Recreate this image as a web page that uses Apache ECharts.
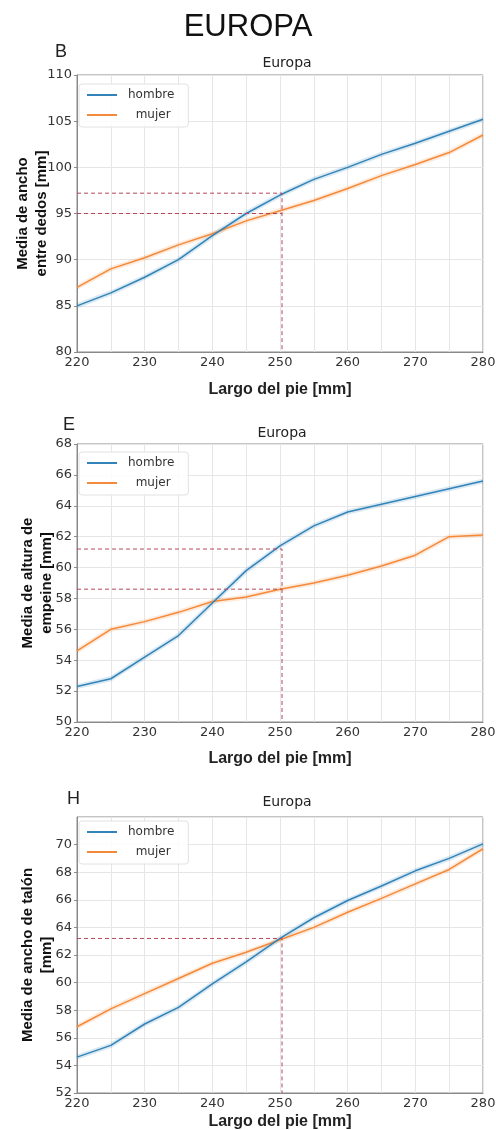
<!DOCTYPE html>
<html>
<head>
<meta charset="utf-8">
<script src="https://cdn.jsdelivr.net/npm/echarts@6/dist/echarts.min.js"></script>
<style>html,body{margin:0;padding:0;background:#fff;}#c{width:496px;height:1130px;}</style>
</head>
<body>
<div id="c"></div>
<script>
// ---- data ----
const largo = [220, 225, 230, 235, 240, 245, 250, 255, 260, 265, 270, 275, 280];
const xTicks = [220, 230, 240, 250, 260, 270, 280];

const anchoDedosHombre = [85.0, 86.4, 88.1, 90.0, 92.6, 95.0, 97.0, 98.7, 100.0, 101.4, 102.6, 103.9, 105.2];
const anchoDedosMujer  = [87.0, 89.0, 90.2, 91.6, 92.8, 94.2, 95.3, 96.4, 97.7, 99.1, 100.3, 101.6, 103.5];
const refDedos = {x: 250.3, y1: 97.2, y2: 95.0};

const alturaEmpeineHombre = [52.3, 52.8, 54.2, 55.6, 57.7, 59.8, 61.4, 62.7, 63.6, 64.1, 64.6, 65.1, 65.6];
const alturaEmpeineMujer  = [54.6, 56.0, 56.5, 57.1, 57.8, 58.1, 58.6, 59.0, 59.5, 60.1, 60.8, 62.0, 62.1];
const refEmpeine = {x: 250.3, y1: 61.2, y2: 58.6};

const anchoTalonHombre = [54.6, 55.45, 57.0, 58.2, 59.9, 61.5, 63.2, 64.7, 65.95, 67.0, 68.1, 69.0, 70.05];
const anchoTalonMujer  = [56.8, 58.1, 59.2, 60.3, 61.4, 62.2, 63.1, 64.0, 65.1, 66.1, 67.15, 68.2, 69.7];
const refTalon = {x: 250.3, y1: 63.2};

const panels = [
  {letter: 'B', yName: 'Media de ancho\nentre dedos [mm]', yMin: 80, yMax: 110, yInt: 5,
   h: anchoDedosHombre, m: anchoDedosMujer, ref: refDedos},
  {letter: 'E', yName: 'Media de altura de\nempeine [mm]', yMin: 50, yMax: 68, yInt: 2,
   h: alturaEmpeineHombre, m: alturaEmpeineMujer, ref: refEmpeine},
  {letter: 'H', yName: 'Media de ancho de talón\n[mm]', yMin: 52, yMax: 72, yInt: 2, hideMax: true,
   h: anchoTalonHombre, m: anchoTalonMujer, ref: refTalon}
];

// ---- layout ----
const grids = [
  {left: 77, top: 75, width: 406, height: 277},
  {left: 77, top: 444, width: 406, height: 278},
  {left: 77, top: 817, width: 406, height: 276}
];
const yNameGaps = [26, 21, 21];
const xNameGaps = [30, 29, 21];
const subTitle = [{x: 282, y: 51}, {x: 277, y: 421}, {x: 282, y: 790}];
const letterPos = [{x: 50, y: 38}, {x: 58, y: 411}, {x: 62, y: 785}];
const legendTop = [9, 8, 4];
const BLUE = '#3283b8', ORANGE = '#f5893a', REF = '#b5485a';

const option = {
  backgroundColor: '#fff',
  animation: false,
  title: [],
  grid: [],
  xAxis: [],
  yAxis: [],
  legend: [],
  series: []
};

option.title.push({text: 'EUROPA', left: 'center', top: 7,
  textStyle: {fontFamily: 'Liberation Sans', fontSize: 31, fontWeight: 'normal', color: '#111'}});

panels.forEach((p, i) => {
  const g = grids[i];
  option.grid.push(Object.assign({show: true, borderColor: '#8a8a8a', borderWidth: 1,
    backgroundColor: 'transparent', containLabel: false, outerBoundsMode: 'none'}, g));
  option.title.push({text: 'Europa', left: subTitle[i].x, top: subTitle[i].y, textAlign: 'center',
    textStyle: {fontFamily: 'DejaVu Sans', fontSize: 14, fontWeight: 'normal', color: '#222'}});
  option.title.push({text: p.letter, left: letterPos[i].x, top: letterPos[i].y,
    textStyle: {fontFamily: 'Liberation Sans', fontSize: 18, fontWeight: 'normal', color: '#222'}});

  option.xAxis.push({
    type: 'value', gridIndex: i, min: 220, max: 280, interval: 5,
    name: 'Largo del pie [mm]', nameLocation: 'middle', nameGap: xNameGaps[i], nameMoveOverlap: false,
    nameTextStyle: {fontFamily: 'Liberation Sans', fontWeight: 'bold', fontSize: 16, color: '#222'},
    axisLine: {show: true, lineStyle: {color: '#8a8a8a'}},
    axisTick: {show: false},
    axisLabel: {fontFamily: 'DejaVu Sans', fontSize: 13, color: '#333', margin: 4,
      formatter: v => xTicks.indexOf(v) >= 0 ? String(v) : ''},
    splitLine: {show: true, lineStyle: {color: '#e6e6e6', width: 1}}
  });
  option.yAxis.push({
    type: 'value', gridIndex: i, min: p.yMin, max: p.yMax, interval: p.yInt,
    name: p.yName, nameLocation: 'middle', nameGap: yNameGaps[i], nameMoveOverlap: false,
    nameTextStyle: {fontFamily: 'Liberation Sans', fontWeight: 'bold', fontSize: 15, color: '#111', lineHeight: 19},
    axisLine: {show: true, lineStyle: {color: '#8a8a8a'}},
    axisTick: {show: true, length: 3, lineStyle: {color: '#8a8a8a'}},
    axisLabel: {fontFamily: 'DejaVu Sans', fontSize: 13, color: '#333', margin: 5,
      showMaxLabel: !p.hideMax},
    splitLine: {show: true, lineStyle: {color: '#e6e6e6', width: 1}}
  });

  option.legend.push({
    data: ['hombre', 'mujer'], orient: 'vertical', left: g.left + 2, top: g.top + legendTop[i],
    itemWidth: 30, itemHeight: 2, itemGap: 8, icon: 'rect',
    padding: [5, 14, 6, 8],
    borderColor: '#e2e2e2', borderWidth: 1, borderRadius: 3, backgroundColor: 'rgba(255,255,255,0.85)',
    formatter: n => n === 'mujer' ? '  ' + n : n,
    textStyle: {fontFamily: 'DejaVu Sans', fontSize: 12, color: '#333', padding: [0, 0, 0, 6]}
  });

  const mk = arr => largo.map((x, k) => [x, arr[k]]);
  // confidence band look (soft wide line)
  [[p.h, BLUE], [p.m, ORANGE]].forEach(([arr, col]) => {
    option.series.push({type: 'line', xAxisIndex: i, yAxisIndex: i, data: mk(arr), symbol: 'none',
      silent: true, z: 1, lineStyle: {color: col, width: 5, opacity: 0.18}});
  });
  option.series.push({name: 'hombre', type: 'line', xAxisIndex: i, yAxisIndex: i, data: mk(p.h),
    symbol: 'none', z: 3, color: BLUE, lineStyle: {color: BLUE, width: 1.5}});
  option.series.push({name: 'mujer', type: 'line', xAxisIndex: i, yAxisIndex: i, data: mk(p.m),
    symbol: 'none', z: 2, color: ORANGE, lineStyle: {color: ORANGE, width: 1.5}});

  // reference dashed lines
  const r = p.ref;
  const refSeries = (pts) => ({type: 'line', xAxisIndex: i, yAxisIndex: i, data: pts, symbol: 'none',
    silent: true, z: 4, lineStyle: {color: REF, width: 1, type: [4, 3]}});
  option.series.push(refSeries([[220, r.y1], [r.x, r.y1], [r.x, p.yMin]]));
  if (r.y2 !== undefined) option.series.push(refSeries([[220, r.y2], [r.x, r.y2]]));
});

const chart = echarts.init(document.getElementById('c'), null, {renderer: 'canvas'});
chart.setOption(option);
</script>
</body>
</html>
